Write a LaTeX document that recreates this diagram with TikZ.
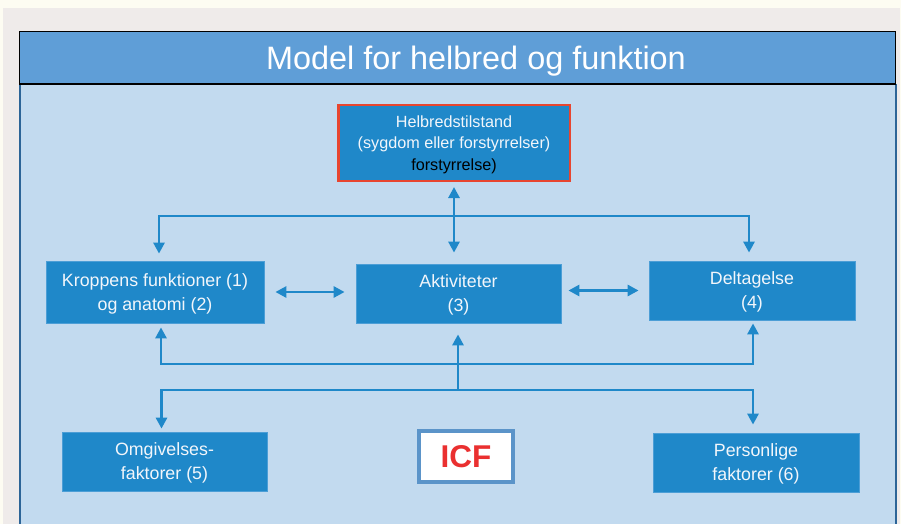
\documentclass[tikz,border=0pt]{standalone}
\usepackage{fontspec}
\setmainfont{Liberation Sans}
\usetikzlibrary{arrows.meta,calc}
\definecolor{boxblue}{HTML}{1F88C9}
\definecolor{boxedge}{HTML}{4C9ED6}
\definecolor{bodyblue}{HTML}{C2DAEF}
\definecolor{titleblue}{HTML}{5F9ED7}
\definecolor{framedark}{HTML}{2C6497}
\definecolor{pagegray}{HTML}{EFEBEA}
\definecolor{ivory}{HTML}{FDFCF2}
\definecolor{hred}{HTML}{E8452F}
\definecolor{icfred}{HTML}{EA3030}
\definecolor{icfedge}{HTML}{5B94C9}
\definecolor{boxtext}{HTML}{F2F6FB}
\tikzset{
  box/.style={fill=boxblue, draw=boxedge, line width=0.8pt, text=boxtext,
    align=center, font=\fontsize{17.8}{24}\selectfont, inner sep=0pt, text depth=-3pt},
  conn/.style={draw=boxblue, line width=2.8pt},
  >={Triangle[length=11pt,width=11pt]}
}
\begin{document}
\begin{tikzpicture}[x=1pt,y=-1pt]
\useasboundingbox (0,0) rectangle (901,524);
% page background
\fill[ivory] (0,0) rectangle (901,524);
\fill[pagegray] (3,8) rectangle (900,524);
% frame
\fill[bodyblue] (19,84) rectangle (896,524);
\draw[framedark, line width=2pt] (19.5,84) -- (19.5,524);
\draw[framedark, line width=2pt] (895.5,84) -- (895.5,524);
\draw[fill=titleblue, draw=black, line width=1.2pt] (19.5,31.5) rectangle (895.5,84);
\node[anchor=base, text=white, font=\fontsize{32.4}{32.4}\selectfont, inner sep=0pt] (title) at (476,69.5) {Model for helbred og funktion};

% nodes
\node[box, draw=hred, line width=2.5pt, minimum width=231.5, minimum height=75.5, text depth=-8pt,
  font=\fontsize{16.2}{21.8}\selectfont] (h) at (454,143)
  {Helbredstilstand\\(sygdom eller forstyrrelser)\\\textcolor{black}{forstyrrelse)}};
\node[box, minimum width=218, minimum height=62] (k) at (155,292) {Kroppens funktioner (1)\\og anatomi (2)};
\node[box, minimum width=205, minimum height=59] (a) at (458.5,293.5) {Aktiviteter\\(3)};
\node[box, minimum width=206, minimum height=59] (d) at (752,290.5) {Deltagelse\\(4)};
\node[box, minimum width=205, minimum height=59] (o) at (164.5,461.5) {Omgivelses-\\faktorer (5)};
\node[box, minimum width=206, minimum height=59] (p) at (756,462.5) {Personlige\\faktorer (6)};
\node[draw=icfedge, line width=4pt, fill=white, minimum width=94, minimum height=51, inner sep=0pt,
  text=icfred, font=\fontsize{31.5}{31.5}\selectfont\bfseries] (icf) at (466,456.5) {ICF};

% junction coordinates
\coordinate (t) at (455,216);
\coordinate (m) at (458,364);
\coordinate (b) at (458,390);

% connectors
\draw[conn, <->, shorten <=11pt, shorten >=11pt] (k.east) -- (k.east -| a.west);
\draw[conn, <->, shorten <=7pt, shorten >=10pt] (a.east |- d.west) -- (d.west);
\draw[conn, <->, shorten <=5pt, shorten >=11pt] (h.south) -- (h.south |- a.north);
\draw[conn, ->, shorten >=7pt] (t) -| ([xshift=4pt]k.north);
\draw[conn, ->, shorten >=8pt] (t) -| ([xshift=-3pt]d.north);
\draw[conn, ->, shorten >=4pt] (m) -| ([xshift=6pt]k.south);
\draw[conn, ->, shorten >=3pt] (m) -| ([xshift=1pt]d.south);
\draw[conn, ->, shorten >=11pt] (b) -- (b |- a.south);
\draw[conn, ->, shorten >=3pt] (b) -| ([xshift=-3pt]o.north);
\draw[conn, ->, shorten >=8pt] (b) -| ([xshift=-3pt]p.north);
\end{tikzpicture}
\end{document}
